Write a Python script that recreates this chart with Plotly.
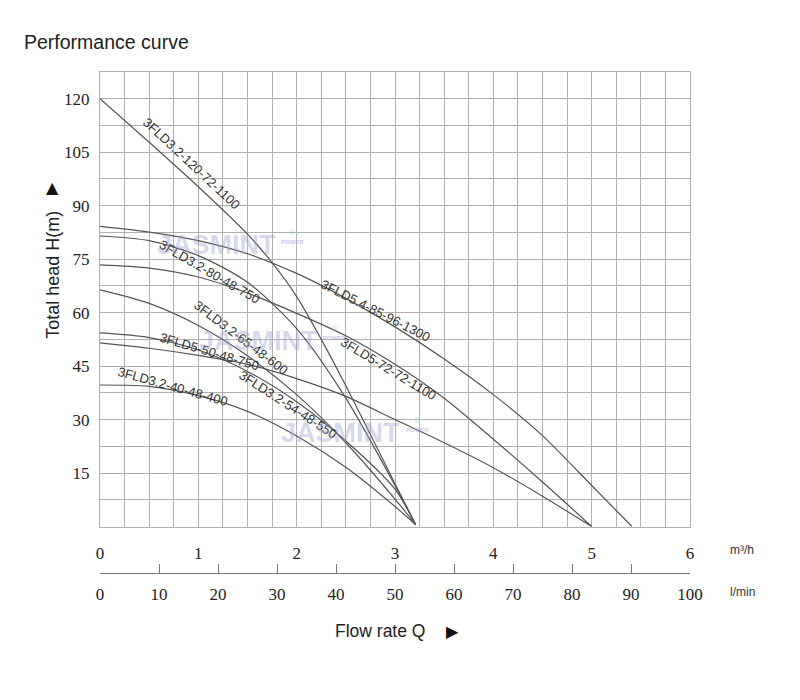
import plotly.graph_objects as go

# ---- data (flow in m3/h, head in m) ----
q_120 = [0, 0.5, 1.0, 1.5, 1.75, 2.0, 2.25, 2.5, 3.0, 3.21]
h_120 = [120, 107.8, 95.3, 82, 74, 64.5, 52.5, 39.5, 12, 0.5]

q_54_85 = [0, 0.5, 1.0, 1.5, 2.0, 2.5, 3.0, 3.5, 4.0, 4.5, 5.0, 5.41]
h_54_85 = [84.2, 82.6, 80.2, 76.5, 71, 64, 56, 47, 37, 25.5, 11.5, 0]

q_80 = [0, 0.5, 1.0, 1.5, 2.0, 2.5, 3.0, 3.21]
h_80 = [81.5, 80.2, 76, 68.5, 55.5, 36, 11.5, 0.5]

q_5_72 = [0, 0.5, 1.0, 1.5, 2.0, 2.5, 3.0, 3.5, 4.0, 4.5, 5.0]
h_5_72 = [73.4, 72.5, 70, 65.5, 59.8, 53.5, 45.5, 36, 24.5, 12.5, 0]

q_65 = [0, 0.5, 1.0, 1.5, 2.0, 2.5, 3.0, 3.21]
h_65 = [66.4, 62.6, 56.4, 47.9, 37, 23.5, 7.7, 0.5]

q_54 = [0, 0.5, 1.0, 1.5, 2.0, 2.5, 3.0, 3.21]
h_54 = [54.3, 53, 49.5, 43.5, 35, 24, 10.5, 0.5]

q_5_50 = [0, 0.5, 1.0, 1.5, 2.0, 2.5, 3.0, 3.5, 4.0, 4.5, 5.0]
h_5_50 = [51.5, 50, 48, 45.5, 41.5, 36.5, 30, 23.5, 16.5, 8.5, 0]

q_40 = [0, 0.5, 1.0, 1.5, 2.0, 2.5, 3.0, 3.21]
h_40 = [39.7, 39.3, 36.7, 32.3, 25.4, 16.6, 5.6, 0.5]

series = [
    ("3FLD3.2-120-72-1100", q_120, h_120),
    ("3FLD5.4-85-96-1300", q_54_85, h_54_85),
    ("3FLD3.2-80-48-750", q_80, h_80),
    ("3FLD5-72-72-1100", q_5_72, h_5_72),
    ("3FLD3.2-65-48-600", q_65, h_65),
    ("3FLD3.2-54-48-550", q_54, h_54),
    ("3FLD5-50-48-750", q_5_50, h_5_50),
    ("3FLD3.2-40-48-400", q_40, h_40),
]

# curve label placements
label_q = [0.93, 2.80, 1.11, 2.93, 1.43, 1.91, 1.11, 0.74]
label_h = [101.8, 60.5, 71.6, 44.3, 52.9, 34.1, 49.0, 39.2]
label_angle = [43, 27, 30, 31, 37, 33, 16.5, 15.7]

# watermark placements
mark_q = [1.18, 1.61, 2.45]
mark_h = [79.1, 52.1, 26.3]

y_ticks = [i * 7.5 for i in range(18)]
y_text = [str(int(v)) if (i % 2 == 0 and i > 0) else "" for i, v in enumerate(y_ticks)]
x_ticks = [i * 0.25 for i in range(25)]
x_text = [str(i // 4) if i % 4 == 0 else "" for i in range(25)]
lmin_ticks = list(range(0, 101, 10))

grid_col = "#b0b0b0"
curve_col = "#555555"
serif = "Liberation Serif, Times New Roman, serif"
sans = "Liberation Sans, Arial, sans-serif"

fig = go.Figure()
for name, q, h in series:
    fig.add_trace(go.Scatter(x=q, y=h, mode="lines", name=name,
                             line=dict(color=curve_col, width=1.2, shape="spline", smoothing=0.8),
                             hoverinfo="skip", showlegend=False))

# helper trace for the l/min axis
fig.add_trace(go.Scatter(x=[0, 100], y=[-50, -50], xaxis="x2", yaxis="y", mode="lines",
                         line=dict(width=0), hoverinfo="skip", showlegend=False))

annotations = []
for (name, _, _), lq, lh, ang in zip(series, label_q, label_h, label_angle):
    annotations.append(dict(x=lq, y=lh, xref="x", yref="y", text=name, showarrow=False,
                            textangle=ang, font=dict(family=sans, size=13, color="#333333")))

# watermarks (text + small sun/POWER logo as one text block)
logo = ("<span style='font-size:14px;color:rgba(140,210,170,0.45)'>●</span><br>"
        "<b>POWER</b>")
for wq, wh in zip(mark_q, mark_h):
    annotations.append(dict(x=wq, y=wh, xref="x", yref="y", text="<b>JASMINT</b>", showarrow=False,
                            font=dict(family=sans, size=27, color="rgba(160,160,210,0.42)")))
    annotations.append(dict(x=wq + 0.64, y=wh + 3.0, xref="x", yref="y", text=logo, showarrow=False,
                            xanchor="left", yanchor="middle", align="center",
                            font=dict(family=sans, size=6, color="rgba(160,160,210,0.6)")))

annotations += [
    dict(x=-0.132, y=1.06, xref="paper", yref="paper", text="Performance curve", showarrow=False,
         xanchor="left", yanchor="middle", font=dict(family=sans, size=19.5, color="#222")),
    dict(x=-0.080, y=0.595, xref="paper", yref="paper", text="Total head H(m)", showarrow=False,
         textangle=-90, xanchor="center", yanchor="middle",
         font=dict(family=sans, size=18, color="#222")),
    dict(x=-0.080, y=0.770, xref="paper", yref="paper", text="▲", showarrow=False,
         xanchor="center", yanchor="middle", font=dict(family="DejaVu Sans", size=16, color="#111")),
    dict(x=1.064, y=0.046, xref="paper", yref="paper", text="m³/h", showarrow=False,
         xanchor="left", yanchor="middle", font=dict(family=sans, size=12, color="#333")),
    dict(x=1.064, y=-0.038, xref="paper", yref="paper", text="l/min", showarrow=False,
         xanchor="left", yanchor="middle", font=dict(family=sans, size=12, color="#333")),
    dict(x=0.475, y=-0.116, xref="paper", yref="paper", text="Flow rate Q", showarrow=False,
         xanchor="center", yanchor="middle", font=dict(family=sans, size=17.5, color="#222")),
    dict(x=0.597, y=-0.116, xref="paper", yref="paper", text="▶", showarrow=False,
         xanchor="center", yanchor="middle", font=dict(family="DejaVu Sans", size=16, color="#111")),
]

fig.update_layout(
    width=800, height=700,
    margin=dict(l=100, r=110, t=72, b=127),
    paper_bgcolor="white", plot_bgcolor="white",
    xaxis=dict(range=[0, 6], tickmode="array", tickvals=x_ticks, ticktext=x_text,
               showgrid=True, gridcolor=grid_col, gridwidth=1, zeroline=False,
               showline=True, mirror=True, linecolor=grid_col, linewidth=1,
               ticks="", ticklabelstandoff=11,
               tickfont=dict(family=serif, size=17, color="#222")),
    xaxis2=dict(range=[0, 100], overlaying="x", anchor="free", position=0, side="bottom",
                tickmode="array", tickvals=lmin_ticks, showgrid=False, zeroline=False,
                showline=True, linecolor="#777", linewidth=1,
                ticks="inside", ticklen=9, tickcolor="#777", ticklabelstandoff=6,
                tickfont=dict(family=serif, size=17, color="#222")),
    yaxis=dict(range=[0, 127.5], domain=[0.0928, 1], tickmode="array", tickvals=y_ticks, ticktext=y_text,
               showgrid=True, gridcolor=grid_col, gridwidth=1, zeroline=False,
               showline=True, mirror=True, linecolor=grid_col, linewidth=1,
               ticks="", ticklabelstandoff=6,
               tickfont=dict(family=serif, size=17, color="#222")),
    annotations=annotations,
)

fig.write_html("out.html")
